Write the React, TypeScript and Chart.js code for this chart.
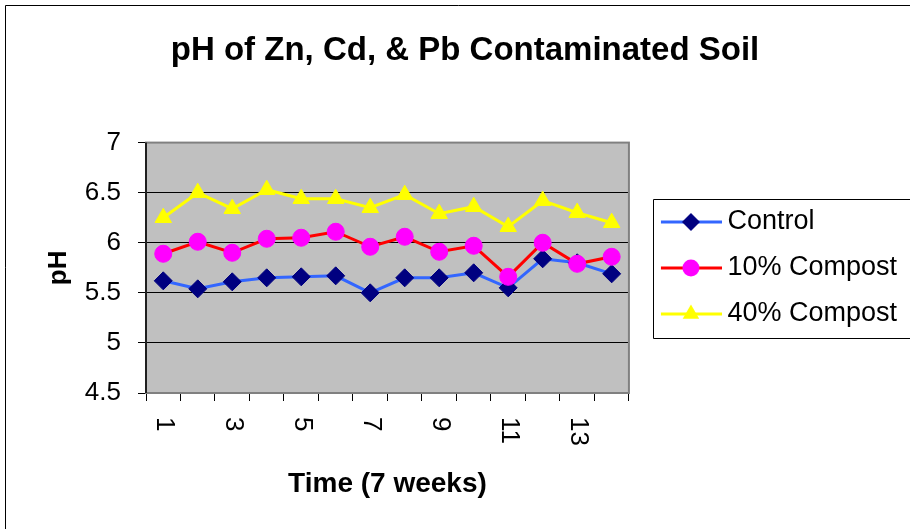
import React, { useEffect, useRef } from "react";
import { Chart, registerables } from "chart.js";

Chart.register(...registerables);

const weeks = ["1", "2", "3", "4", "5", "6", "7", "8", "9", "10", "11", "12", "13", "14"];
const controlValues = [5.62, 5.54, 5.61, 5.65, 5.66, 5.67, 5.5, 5.65, 5.65, 5.7, 5.55, 5.84, 5.8, 5.69];
const compost10Values = [5.89, 6.01, 5.9, 6.04, 6.05, 6.11, 5.96, 6.06, 5.91, 5.97, 5.66, 6.0, 5.79, 5.86];
const compost40Values = [6.25, 6.5, 6.34, 6.53, 6.44, 6.44, 6.35, 6.48, 6.29, 6.36, 6.16, 6.42, 6.3, 6.2];
const seriesNames = ["Control", "10% Compost", "40% Compost"];
const yMin = 4.5;
const yMax = 7;
const yStep = 0.5;

const FONT = "'Liberation Sans', Arial, Helvetica, sans-serif";

const styles = [
  { line: "#3366ff", fill: "#000080", shape: "rectRot", r: 9 },
  { line: "#ff0000", fill: "#ff00ff", shape: "circle", r: 8.5 },
  { line: "#ffff00", fill: "#ffff00", shape: "triangle", r: 9.5 },
];

function drawMarker(ctx: CanvasRenderingContext2D, shape: string, x: number, y: number, r: number, color: string) {
  ctx.fillStyle = color;
  ctx.beginPath();
  if (shape === "circle") {
    ctx.arc(x, y, r, 0, Math.PI * 2);
  } else if (shape === "rectRot") {
    ctx.moveTo(x, y - r);
    ctx.lineTo(x + r, y);
    ctx.lineTo(x, y + r);
    ctx.lineTo(x - r, y);
    ctx.closePath();
  } else {
    const s = r * Math.sqrt(3) / 2;
    ctx.moveTo(x, y - r);
    ctx.lineTo(x + s, y + r / 2);
    ctx.lineTo(x - s, y + r / 2);
    ctx.closePath();
  }
  ctx.fill();
}

function makeLegendImage(i: number): HTMLCanvasElement {
  const c = document.createElement("canvas");
  c.width = 82;
  c.height = 24;
  const ctx = c.getContext("2d")!;
  const st = styles[i];
  ctx.strokeStyle = st.line;
  ctx.lineWidth = 3;
  ctx.beginPath();
  ctx.moveTo(21, 12);
  ctx.lineTo(82, 12);
  ctx.stroke();
  drawMarker(ctx, st.shape, 51, 12, st.r, st.fill);
  return c;
}

const decorPlugin = {
  id: "decor",
  beforeDraw(chart: any) {
    const { ctx, width, height, chartArea } = chart;
    ctx.save();
    ctx.fillStyle = "#ffffff";
    ctx.fillRect(0, 0, width, height);
    ctx.strokeStyle = "#000000";
    ctx.lineWidth = 1;
    ctx.beginPath();
    ctx.moveTo(5.5, height + 2);
    ctx.lineTo(5.5, 5.5);
    ctx.lineTo(width + 2, 5.5);
    ctx.stroke();
    ctx.fillStyle = "#c0c0c0";
    ctx.fillRect(chartArea.left, chartArea.top, chartArea.right - chartArea.left, chartArea.bottom - chartArea.top);
    ctx.restore();
  },
  beforeDatasetsDraw(chart: any) {
    const { ctx, chartArea } = chart;
    ctx.save();
    ctx.strokeStyle = "#808080";
    ctx.lineWidth = 2;
    ctx.strokeRect(chartArea.left, chartArea.top, chartArea.right - chartArea.left, chartArea.bottom - chartArea.top);
    ctx.strokeStyle = "#000000";
    ctx.lineWidth = 1.5;
    ctx.beginPath();
    ctx.moveTo(chartArea.left, chartArea.top);
    ctx.lineTo(chartArea.left, chartArea.bottom);
    ctx.stroke();
    ctx.restore();
  },
  afterDraw(chart: any) {
    const { ctx, width } = chart;
    const xs = chart.scales.x;
    ctx.save();
    ctx.font = `26px ${FONT}`;
    ctx.fillStyle = "#000000";
    ctx.textAlign = "left";
    ctx.textBaseline = "middle";
    weeks.forEach((lab, i) => {
      if (i % 2 !== 0) return;
      const x = xs.getPixelForValue(i);
      ctx.save();
      ctx.translate(x + 1, xs.top + 24);
      ctx.rotate(Math.PI / 2);
      ctx.fillText(lab, 0, 0);
      ctx.restore();
    });
    const lg = chart.legend;
    if (lg && lg.legendHitBoxes && lg.legendHitBoxes.length) {
      const hb = lg.legendHitBoxes;
      const first = hb[0];
      const last = hb[hb.length - 1];
      const x0 = Math.round(first.left + 5) + 0.5;
      const y0 = Math.round(first.top - 10) + 0.5;
      const y1 = Math.round(last.top + last.height + 10) + 0.5;
      ctx.strokeStyle = "#000000";
      ctx.lineWidth = 1;
      ctx.beginPath();
      ctx.moveTo(width + 2, y0);
      ctx.lineTo(x0, y0);
      ctx.lineTo(x0, y1);
      ctx.lineTo(width + 2, y1);
      ctx.stroke();
    }
    ctx.restore();
  },
};

export default function App() {
  const ref = useRef<HTMLCanvasElement | null>(null);
  useEffect(() => {
    if (!ref.current) return;
    const legendImgs = [0, 1, 2].map(makeLegendImage);
    const seriesData = [controlValues, compost10Values, compost40Values];
    const chart = new Chart(ref.current, {
      type: "line",
      data: {
        labels: weeks,
        datasets: seriesData.map((d, i) => ({
          label: seriesNames[i],
          data: d,
          borderColor: styles[i].line,
          backgroundColor: styles[i].fill,
          borderWidth: 3,
          pointStyle: styles[i].shape as any,
          pointRadius: styles[i].r,
          pointBackgroundColor: styles[i].fill,
          pointBorderColor: styles[i].fill,
          pointBorderWidth: 1,
          tension: 0,
          order: 3 - i,
        })),
      },
      options: {
        animation: false,
        responsive: false,
        maintainAspectRatio: false,
        devicePixelRatio: 1,
        layout: { padding: { top: 7, left: 23, right: 3, bottom: 0 } },
        plugins: {
          tooltip: { enabled: false },
          title: {
            display: true,
            text: "pH of Zn, Cd, & Pb Contaminated Soil",
            color: "#000000",
            font: { family: FONT, size: 33, weight: "bold" },
            padding: { top: 24, bottom: 72 },
          },
          legend: {
            display: true,
            position: "right",
            maxWidth: 400,
            labels: {
              usePointStyle: true,
              pointStyleWidth: 66,
              padding: 19,
              color: "#000000",
              font: { family: FONT, size: 27 },
              generateLabels: (ch: any) =>
                ch.data.datasets.map((ds: any, i: number) => ({
                  text: ds.label,
                  pointStyle: legendImgs[i],
                  fillStyle: styles[i].fill,
                  strokeStyle: styles[i].line,
                  lineWidth: 0,
                  hidden: false,
                  datasetIndex: i,
                  fontColor: "#000000",
                })),
            },
          },
        },
        scales: {
          x: {
            type: "category",
            offset: true,
            afterFit: (s: any) => {
              s.height = 136;
            },
            grid: {
              offset: true,
              drawOnChartArea: false,
              drawTicks: true,
              tickLength: 8,
              color: "#000000",
              lineWidth: 1,
            },
            border: { display: true, color: "#808080", width: 2 },
            ticks: {
              display: true,
              autoSkip: false,
              color: "rgba(0,0,0,0)",
              font: { family: FONT, size: 26 },
              minRotation: 90,
              maxRotation: 90,
              callback: (_v: any, i: number) => (i % 2 === 0 ? weeks[i] : ""),
            },
            title: {
              display: true,
              text: "Time (7 weeks)",
              color: "#000000",
              font: { family: FONT, size: 28, weight: "bold" },
              padding: { top: 0, bottom: 28 },
            },
          },
          y: {
            min: yMin,
            max: yMax,
            afterFit: (s: any) => {
              s.width = 123;
            },
            grid: {
              color: "#000000",
              lineWidth: 1,
              drawTicks: true,
              tickLength: 8,
            },
            border: { display: true, color: "#000000", width: 1 },
            ticks: {
              stepSize: yStep,
              color: "#000000",
              padding: 17,
              font: { family: FONT, size: 26 },
              callback: (v: any) => String(Math.round(Number(v) * 10) / 10),
            },
            title: {
              display: true,
              text: "pH",
              color: "#000000",
              font: { family: FONT, size: 26, weight: "bold" },
              padding: { top: 20, bottom: 0 },
            },
          },
        },
      },
      plugins: [decorPlugin],
    });
    return () => chart.destroy();
  }, []);

  return (
    <div style={{ position: "absolute", left: 0, top: 0, width: 910, height: 529, background: "#fff" }}>
      <canvas ref={ref} width={910} height={529} style={{ display: "block", width: 910, height: 529 }} />
    </div>
  );
}
